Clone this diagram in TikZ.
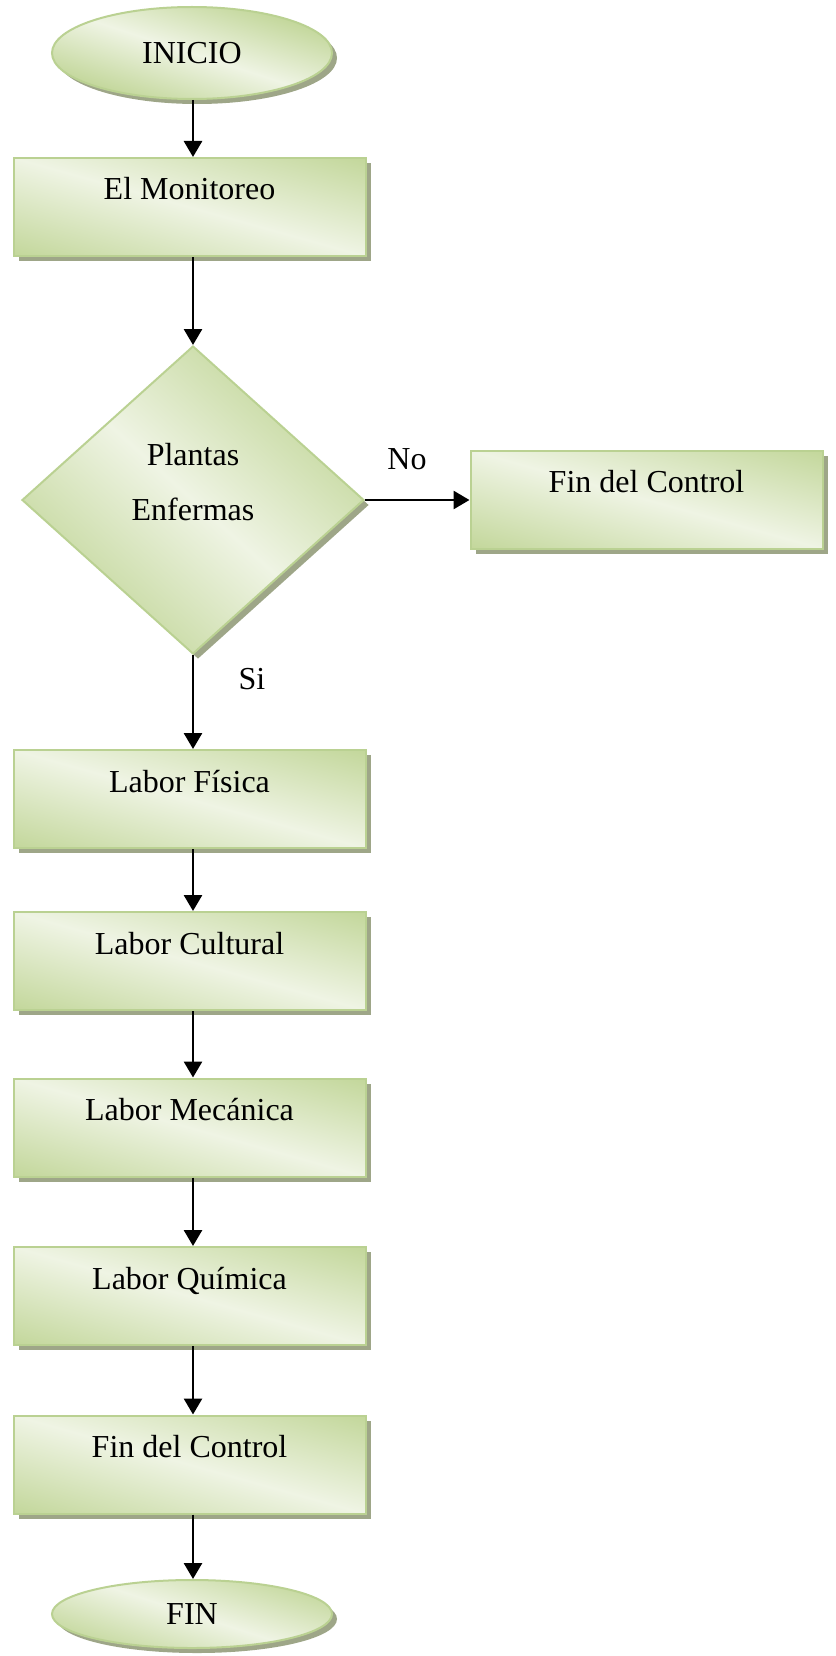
\documentclass[tikz,border=0pt]{standalone}
\usepackage{fontspec}
\setmainfont{Liberation Serif}
\usetikzlibrary{arrows.meta,shapes.geometric,shadows}

\definecolor{leafdark}{RGB}{195,215,155}
\definecolor{leaflight}{RGB}{239,244,228}
\definecolor{leafedge}{RGB}{186,209,146}
\definecolor{leafshadow}{RGB}{158,166,136}

\tikzset{
  x=1pt, y=-1pt,
  every node/.style={font=\fontsize{32}{55}\selectfont},
  % light streak across the shape: #1 = streak angle, #2 = half width of the fade
  sheen/.style 2 args={
    path picture={
      \shade[transform canvas={rotate around={#1:(path picture bounding box.center)}},
             top color=leafdark, bottom color=leafdark, middle color=leaflight]
        ([shift={(-400pt,-#2)}]path picture bounding box.center) rectangle
        ([shift={(400pt,#2)}]path picture bounding box.center);
    }},
  greenfill/.style={
    draw=leafedge, line width=2pt, fill=leaflight,
    drop shadow={shadow xshift=5pt, shadow yshift=-5pt,
                 fill=leafshadow, opacity=1}},
  terminal/.style={greenfill, sheen={-18}{62pt}, ellipse, inner sep=0pt,
    minimum width=280pt},
  stepbox/.style={greenfill, sheen={-15.6}{94pt}, rectangle, inner sep=0pt,
    minimum width=352pt, minimum height=98pt,
    text height=24pt, text depth=38pt},
  decision/.style={greenfill, sheen={-42}{114pt}, diamond, inner sep=0pt,
    minimum width=342pt, minimum height=308pt, align=center,
    text height=77pt, text depth=37pt},
  flow/.style={line width=2.8pt, -{Triangle[length=16pt,width=18pt]}},
  tag/.style={inner sep=0pt}
}

\begin{document}
\begin{tikzpicture}
  \useasboundingbox (0,0) rectangle (835,1656);

  % start and end terminals
  \node[terminal, minimum height=92pt] (inicio) at (192,53) {INICIO};
  \node[terminal, minimum height=68pt] (fin) at (192,1614) {FIN};

  % process steps
  \node[stepbox] (monitoreo) at (189.5,207)  {El Monitoreo};
  \node[decision] (enfermas) at (193,500) {Plantas\\Enfermas};
  \node[stepbox] (findelctl) at (646.5,499.5) {Fin del Control};
  \node[stepbox] (fisica)    at (189.5,799)  {Labor Física};
  \node[stepbox] (cultural)  at (189.5,961)  {Labor Cultural};
  \node[stepbox] (mecanica)  at (189.5,1127.5) {Labor Mecánica};
  \node[stepbox] (quimica)   at (189.5,1296) {Labor Química};
  \node[stepbox] (control)   at (189.5,1464.5) {Fin del Control};

  % branch labels
  \node[tag] (no) at (407,459) {No};
  \node[tag] (si) at (252,679) {Si};

  % connectors
  \draw[flow] (inicio.south -| enfermas.north) -- (enfermas.north |- monitoreo.north);
  \draw[flow] (enfermas.north |- monitoreo.south) -- (enfermas.north);
  \draw[flow] (enfermas.east) -- (enfermas.east -| findelctl.west);
  \draw[flow] (enfermas.south) -- (enfermas.south |- fisica.north);
  \draw[flow] (enfermas.south |- fisica.south) -- (enfermas.south |- cultural.north);
  \draw[flow] (enfermas.south |- cultural.south) -- (enfermas.south |- mecanica.north);
  \draw[flow] (enfermas.south |- mecanica.south) -- (enfermas.south |- quimica.north);
  \draw[flow] (enfermas.south |- quimica.south) -- (enfermas.south |- control.north);
  \draw[flow] (enfermas.south |- control.south) -- (enfermas.south |- fin.north);
\end{tikzpicture}
\end{document}
